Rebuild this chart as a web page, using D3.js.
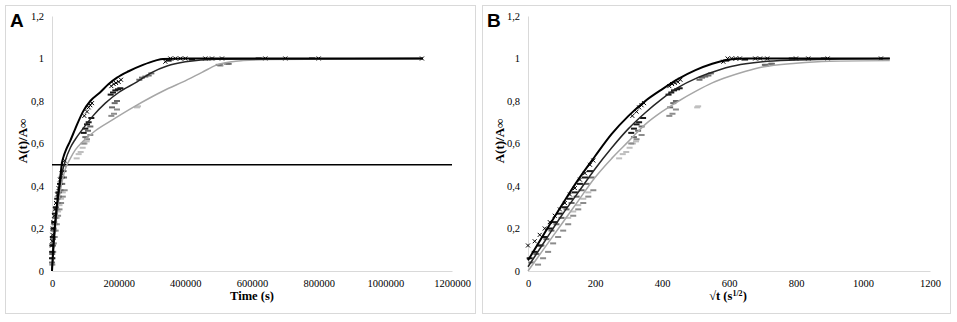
<!DOCTYPE html>
<html>
<head>
<meta charset="utf-8">
<script src="https://cdn.jsdelivr.net/npm/d3@7"></script>
<style>
  body { margin: 0; background: #fff; }
  svg text { font-family: "Liberation Serif", "Times New Roman", serif; fill: #000; }
</style>
</head>
<body>
<svg id="chart" width="957" height="322"></svg>
<script>
// axis ticks
const yTicks = [0, 0.2, 0.4, 0.6, 0.8, 1, 1.2];
const timeTicks = [0, 200000, 400000, 600000, 800000, 1000000, 1200000];
const rootTicks = [0, 200, 400, 600, 800, 1000, 1200];

// fitted curves, panel A (x = time in s)
const fitBlackTime = [[0, 0], [4000, 0.12], [9000, 0.22], [14000, 0.3], [20000, 0.38], [25000, 0.44], [29000, 0.5], [35000, 0.54], [42000, 0.57], [54000, 0.61], [70000, 0.67], [93000, 0.75], [115000, 0.8], [144000, 0.84], [170000, 0.88], [195000, 0.91], [230000, 0.94], [273000, 0.97], [310000, 0.99], [333000, 0.998], [400000, 1], [1113000, 1]];
const fitMidTime = [[0, 0], [5000, 0.12], [10000, 0.22], [20000, 0.36], [30000, 0.46], [40000, 0.52], [55000, 0.58], [70000, 0.62], [93000, 0.67], [123000, 0.73], [160000, 0.79], [200000, 0.84], [255000, 0.89], [300000, 0.935], [345000, 0.965], [400000, 0.985], [495000, 0.997], [1113000, 1]];
const fitLightTime = [[0, 0], [5000, 0.11], [10000, 0.2], [20000, 0.33], [30000, 0.42], [40000, 0.48], [55000, 0.53], [70000, 0.57], [93000, 0.61], [130000, 0.66], [180000, 0.71], [243000, 0.77], [300000, 0.82], [350000, 0.86], [393000, 0.89], [450000, 0.935], [495000, 0.97], [540000, 0.985], [573000, 0.99], [650000, 0.995], [1113000, 1]];
const halfLine = [[0, 0.5], [1200000, 0.5]];

// fitted curves, panel B (x = sqrt of time)
const fitBlackRoot = [[0, 0.05], [50, 0.18], [105, 0.32], [150, 0.43], [200, 0.54], [250, 0.645], [300, 0.73], [350, 0.8], [400, 0.855], [450, 0.905], [500, 0.945], [550, 0.975], [600, 0.995], [650, 1], [1080, 1]];
const fitMidRoot = [[0, 0.02], [50, 0.14], [100, 0.26], [150, 0.37], [200, 0.48], [250, 0.58], [300, 0.67], [350, 0.745], [400, 0.81], [450, 0.865], [500, 0.905], [550, 0.935], [600, 0.96], [650, 0.975], [700, 0.985], [800, 0.993], [900, 0.997], [1080, 1]];
const fitLightRoot = [[0, 0], [50, 0.11], [100, 0.22], [150, 0.33], [200, 0.44], [250, 0.53], [300, 0.61], [350, 0.69], [400, 0.75], [450, 0.8], [500, 0.845], [550, 0.885], [600, 0.915], [650, 0.94], [700, 0.96], [800, 0.978], [900, 0.987], [1080, 0.99]];

// measured points [time s, A(t)/Ainf]
const sampleOne = [[0, 0.12], [400, 0.14], [1225, 0.17], [2500, 0.2], [4225, 0.23], [6400, 0.26], [9025, 0.29], [12100, 0.32], [15625, 0.36], [19600, 0.39], [24025, 0.43], [28900, 0.46], [34225, 0.5], [38025, 0.52],
  [97000, 0.73], [105000, 0.75], [110000, 0.77], [115000, 0.78], [120000, 0.79], [178000, 0.87], [185000, 0.88], [192000, 0.885], [200000, 0.89], [207000, 0.9],
  [340000, 0.985], [355000, 1], [370000, 1], [385000, 1], [400000, 1], [460000, 1], [480000, 1], [510000, 1], [640000, 1], [700000, 1], [800000, 1], [1110000, 1]];
const sampleTwo = [[25, 0.06], [400, 0.09], [1225, 0.12], [2500, 0.16], [4225, 0.2], [6400, 0.23], [9025, 0.27], [12100, 0.3], [15625, 0.34], [19600, 0.37], [24025, 0.41], [28900, 0.44], [34225, 0.47],
  [95000, 0.65], [100000, 0.67], [105000, 0.69], [110000, 0.7], [118000, 0.72], [176000, 0.83], [183000, 0.84], [190000, 0.85], [198000, 0.855], [205000, 0.86],
  [350000, 0.99], [420000, 0.995], [620000, 1], [780000, 1]];
const sampleThree = [[100, 0.04], [625, 0.08], [1600, 0.12], [3025, 0.15], [4900, 0.19], [7225, 0.22], [10000, 0.25], [13225, 0.29], [16900, 0.32], [21025, 0.35], [25600, 0.38], [30625, 0.41], [36100, 0.44],
  [100000, 0.63], [108000, 0.66], [115000, 0.68], [180000, 0.77], [188000, 0.79], [195000, 0.8],
  [262000, 0.9], [270000, 0.91], [280000, 0.915], [290000, 0.92], [298000, 0.93], [500000, 0.97], [530000, 0.975]];
const sampleFour = [[900, 0.03], [2025, 0.06], [3600, 0.09], [5625, 0.13], [8100, 0.16], [11025, 0.19], [14400, 0.22], [18225, 0.26], [22500, 0.29], [27225, 0.32], [32400, 0.35], [38025, 0.38],
  [95000, 0.6], [105000, 0.62], [115000, 0.64], [178000, 0.73], [186000, 0.74], [195000, 0.76], [505000, 0.97], [525000, 0.975]];
const sampleFive = [[14400, 0.25], [18225, 0.28], [22500, 0.31], [27225, 0.34], [32400, 0.37],
  [74000, 0.53], [80000, 0.55], [86000, 0.56], [92000, 0.58], [98000, 0.6], [104000, 0.61], [255000, 0.77], [258000, 0.775], [505000, 0.965]];

const svg = d3.select("#chart");
const serif = "'Liberation Serif', 'Times New Roman', serif";
const commaFormat = d => String(d).replace(".", ",");

const drawPanel = function (opts) {
  const g = svg.append("g");
  const x = d3.scaleLinear().domain([0, 1200 * opts.unit]).range(opts.xRange);
  const y = d3.scaleLinear().domain([0, 1.2]).range([271, 16]);
  const px = d => x(opts.toX(d[0]));

  g.append("rect")
    .attr("x", opts.frame[0] + 0.5).attr("y", 5.5)
    .attr("width", opts.frame[1]).attr("height", 308)
    .attr("fill", "none").attr("stroke", "#d9d9d9");

  const yAxis = g.append("g")
    .attr("transform", `translate(${opts.xRange[0]},0)`)
    .call(d3.axisLeft(y).tickValues(yTicks).tickSize(0).tickPadding(8).tickFormat(commaFormat));
  const xAxis = g.append("g")
    .attr("transform", `translate(0,${y(0)})`)
    .call(d3.axisBottom(x).tickValues(opts.ticks).tickSize(0).tickPadding(9).tickFormat(d3.format("d")));
  [yAxis, xAxis].forEach(a => {
    a.attr("font-family", serif).attr("font-size", 10.5);
    a.select(".domain").attr("stroke", "#d9d9d9");
    a.selectAll("text").attr("fill", "#222");
  });

  // measured points
  const dash = (data, color) => g.append("g").selectAll("rect").data(data).join("rect")
    .attr("x", d => px(d) - 3).attr("y", d => y(d[1]) - 1)
    .attr("width", 6).attr("height", 2).attr("fill", color);
  dash(sampleFive, "#bfbfbf");
  dash(sampleFour, "#8c8c8c");
  dash(sampleThree, "#6b6b6b");
  dash(sampleTwo, "#1a1a1a");
  g.append("g").selectAll("path").data(sampleOne).join("path")
    .attr("transform", d => `translate(${px(d)},${y(d[1])})`)
    .attr("d", d3.symbol(d3.symbolX, 12))
    .attr("fill", "none").attr("stroke", "#000").attr("stroke-width", 1);

  const line = d3.line().x(d => x(d[0])).y(d => y(d[1])).curve(d3.curveMonotoneX);
  if (opts.extra) {
    g.append("path").attr("d", line(opts.extra))
      .attr("fill", "none").attr("stroke", "#000").attr("stroke-width", 1.6);
  }
  g.append("path").attr("d", line(opts.fits[2]))
    .attr("fill", "none").attr("stroke", "#a6a6a6").attr("stroke-width", 1.5);
  g.append("path").attr("d", line(opts.fits[1]))
    .attr("fill", "none").attr("stroke", "#262626").attr("stroke-width", 1.5);
  g.append("path").attr("d", line(opts.fits[0]))
    .attr("fill", "none").attr("stroke", "#000").attr("stroke-width", 2);

  g.append("text")
    .attr("x", opts.frame[0] + 5).attr("y", 27)
    .style("font-family", "'Liberation Sans', Arial, sans-serif")
    .style("font-weight", "bold").style("font-size", "19px")
    .text(opts.letter);

  g.append("text")
    .attr("transform", `translate(${opts.frame[0] + 17},141) rotate(-90)`)
    .attr("text-anchor", "middle").attr("dy", "0.35em")
    .style("font-weight", "bold").style("font-size", "13px")
    .text("A(t)/A∞");

  const title = g.append("text")
    .attr("x", opts.titleX).attr("y", 300)
    .attr("text-anchor", "middle")
    .style("font-weight", "bold").style("font-size", "12.5px");
  title.append("tspan").text(opts.title);
  if (opts.sup) {
    title.append("tspan").attr("dy", -4).style("font-size", "8px").text(opts.sup);
    title.append("tspan").attr("dy", 4).text(")");
  }
};

drawPanel({
  letter: "A", frame: [5, 470], xRange: [52, 452], unit: 1000, ticks: timeTicks,
  toX: t => t, fits: [fitBlackTime, fitMidTime, fitLightTime], extra: halfLine,
  title: "Time (s)", titleX: 252
});

drawPanel({
  letter: "B", frame: [482, 468], xRange: [528, 930], unit: 1, ticks: rootTicks,
  toX: t => Math.sqrt(t), fits: [fitBlackRoot, fitMidRoot, fitLightRoot],
  title: "√t (s", sup: "1/2", titleX: 728
});
</script>
</body>
</html>
